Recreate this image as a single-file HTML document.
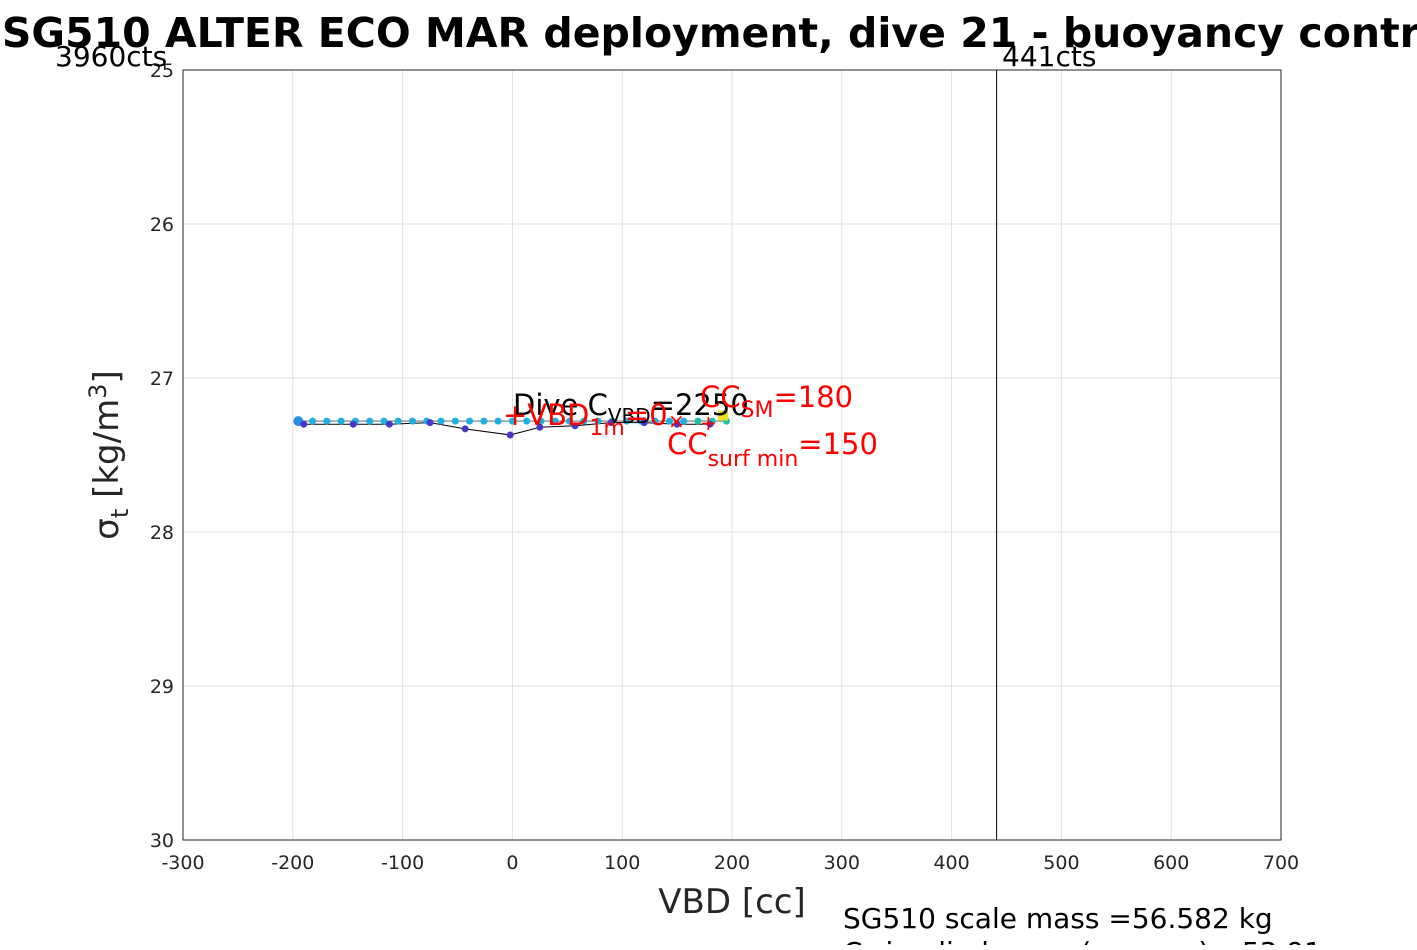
<!DOCTYPE html>
<html><head><meta charset="utf-8"><style>
body{margin:0;background:#fff;width:1417px;height:945px;overflow:hidden}
svg{font-family:"DejaVu Sans","Liberation Sans",sans-serif}
</style></head><body>
<svg id="chart" width="1417" height="945" xmlns="http://www.w3.org/2000/svg">
<text x="732" y="47" font-size="41" font-weight="bold" text-anchor="middle">SG510 ALTER ECO MAR deployment, dive 21 - buoyancy control</text>
<g id="grid"></g>
<rect x="183" y="70" width="1098" height="770" fill="none" stroke="#262626" stroke-width="1"/>
<g id="ticks"></g>
<g id="marks"></g>
<text x="732" y="913" font-size="34" fill="#262626" text-anchor="middle">VBD [cc]</text>
<text transform="translate(118,455) rotate(-90)" font-size="34" fill="#262626" text-anchor="middle">σ<tspan font-size="24" dy="10">t</tspan><tspan dy="-10"> [kg/m</tspan><tspan font-size="24" dy="-12">3</tspan><tspan dy="12">]</tspan></text>
<text x="55" y="66" font-size="28">3960cts</text>
<text x="1002" y="66" font-size="28">441cts</text>
<text x="843" y="928" font-size="28">SG510 scale mass =56.582 kg</text>
<text x="843" y="962" font-size="28">C_ implied mass (sensors) =53.91</text>
</svg>
<script>
const xTicks=[-300,-200,-100,0,100,200,300,400,500,600,700];
const yTicks=[25,26,27,28,29,30];
const cyanX=[-195,-182,-169,-156,-143,-130,-117,-104,-91,-78,-65,-52,-39,-26,-13,0,13,26,39,52,65,78,91,104,117,130,143,156,169,182,195];
const cyanY=[27.28,27.28,27.28,27.28,27.28,27.28,27.28,27.28,27.28,27.28,27.28,27.28,27.28,27.28,27.28,27.28,27.28,27.28,27.28,27.28,27.28,27.28,27.28,27.28,27.28,27.28,27.28,27.28,27.28,27.28,27.28];
const purpleX=[-190,-145,-112,-75,-43,-2,25,57,90,120,150,180];
const purpleY=[27.30,27.30,27.30,27.29,27.33,27.37,27.32,27.31,27.29,27.29,27.30,27.30];
const vbdLimit=[441];
const ccSM=[180]; const ccSurf=[150];
const X=v=>183+(v+300)*1.098, Y=v=>70+(v-25)*154;
const NS="http://www.w3.org/2000/svg";
function mk(t,a,p){const e=document.createElementNS(NS,t);for(const k in a)e.setAttribute(k,a[k]);p.appendChild(e);return e;}
const g=document.getElementById('grid'),tk=document.getElementById('ticks'),m=document.getElementById('marks');
xTicks.forEach(v=>{const l=mk('line',{x1:X(v),x2:X(v),y1:70,y2:840,stroke:'#e0e0e0'},g);

const t=mk('text',{x:X(v),y:869,'font-size':19,fill:'#262626','text-anchor':'middle'},tk);t.textContent=v;
});
yTicks.forEach(v=>{const l=mk('line',{x1:183,x2:1281,y1:Y(v),y2:Y(v),stroke:'#e0e0e0'},g);

const t=mk('text',{x:174,y:Y(v)+7,'font-size':19,fill:'#262626','text-anchor':'end'},tk);t.textContent=v;
});
const lim=mk('line',{x1:X(vbdLimit[0]),x2:X(vbdLimit[0]),y1:70,y2:840,stroke:'#000'},m);

const gl=mk('polyline',{points:cyanX.map((x,i)=>X(x)+','+Y(cyanY[i])).join(' '),fill:'none',stroke:'#999','stroke-width':1.5},m);

const pl=mk('polyline',{points:purpleX.map((x,i)=>X(x)+','+Y(purpleY[i])).join(' '),fill:'none',stroke:'#000','stroke-width':1},m);

cyanX.forEach((x,i)=>{const c=mk('circle',{cx:X(x),cy:Y(cyanY[i]),r:i==0?5:3.5,fill:i==0?'#2a8ee8':(i>27?'#22c0a8':'#1fb0e0')},m);
});
purpleX.forEach((x,i)=>{const c=mk('circle',{cx:X(x),cy:Y(purpleY[i]),r:3.5,fill:'#4a36c8'},m);
});
const sq=mk('rect',{x:X(ccSM[0])+8,y:Y(27.25)-6,width:10,height:10,fill:'#e8e020'},m);

function txt(x,y,s,fs,fill,name){const t=mk('text',{x:x,y:y,'font-size':fs,fill:fill},m);t.innerHTML=s;
}
txt(513,415,'Dive C<tspan font-size="20" dy="8">VBD</tspan><tspan dy="-8">=2250</tspan>',29,'#000','dive-c-vbd-label');
txt(503,425,'+VBD<tspan font-size="22" dy="10">1m</tspan><tspan dy="-10">=0</tspan>',29,'#f00','vbd-1m-label');
txt(X(ccSM[0])-10,407,'CC<tspan font-size="22" dy="10">SM</tspan><tspan dy="-10">=180</tspan>',29,'#f00','cc-sm-label');
txt(X(ccSurf[0])-10,454,'CC<tspan font-size="22" dy="12">surf min</tspan><tspan dy="-12">=150</tspan>',29,'#f00','cc-surf-min-label');
txt(668,428,'×',20,'#f00','x-marker');
txt(700,430,'+',20,'#f00','plus-marker');
</script>
</body></html>
